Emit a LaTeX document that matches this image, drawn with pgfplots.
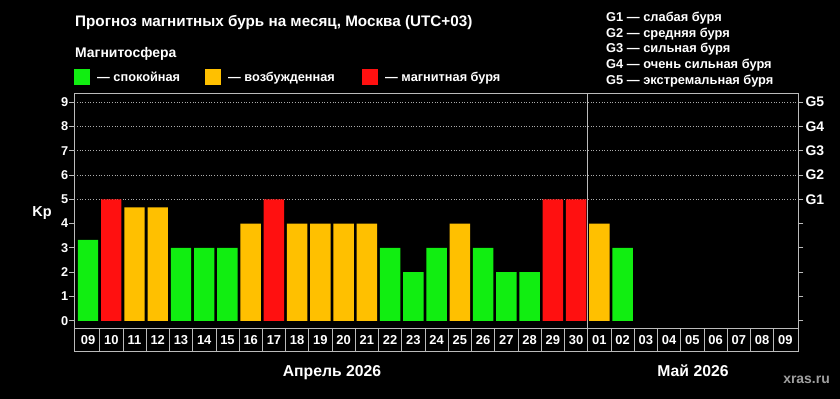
\documentclass[border=0pt]{standalone}
\usepackage{pgfplots}
\pgfplotsset{compat=1.18}
\usepackage{fontspec}
\setmainfont{Liberation Sans}
\definecolor{cgreen}{HTML}{11EE11}
\definecolor{corange}{HTML}{FFC000}
\definecolor{cred}{HTML}{FF1010}
\definecolor{caxis}{HTML}{BBBBBB}
\newcommand{\fs}[1]{\fontsize{#1}{#1}\selectfont\bfseries}
\begin{document}
\begin{tikzpicture}
\fill[black] (0,0) rectangle (840bp,399bp);
\path[use as bounding box] (0,0) rectangle (840bp,399bp);
% titles
\node[anchor=base west, inner sep=0, text=white, font=\fs{15.3}] at (75bp,372bp) {Прогноз магнитных бурь на месяц, Москва (UTC+03)};
\node[anchor=base west, inner sep=0, text=white, font=\fs{14}] at (75bp,341bp) {Магнитосфера};
\fill[cgreen] (74bp,314bp) rectangle (90bp,330bp);
\node[anchor=base west, inner sep=0, text=white, font=\fs{12.8}] at (97bp,317.5bp) {— спокойная};
\fill[corange] (205bp,314bp) rectangle (221bp,330bp);
\node[anchor=base west, inner sep=0, text=white, font=\fs{12.8}] at (228bp,317.5bp) {— возбужденная};
\fill[cred] (362bp,314bp) rectangle (378bp,330bp);
\node[anchor=base west, inner sep=0, text=white, font=\fs{12.8}] at (385bp,317.5bp) {— магнитная буря};
\node[anchor=base west, inner sep=0, text=white, font=\fs{12.9}] at (606bp,377.3bp) {G1 — слабая буря};
\node[anchor=base west, inner sep=0, text=white, font=\fs{12.9}] at (606bp,361.7bp) {G2 — средняя буря};
\node[anchor=base west, inner sep=0, text=white, font=\fs{12.9}] at (606bp,346.1bp) {G3 — сильная буря};
\node[anchor=base west, inner sep=0, text=white, font=\fs{12.9}] at (606bp,330.5bp) {G4 — очень сильная буря};
\node[anchor=base west, inner sep=0, text=white, font=\fs{12.9}] at (606bp,314.9bp) {G5 — экстремальная буря};
\node[anchor=center, inner sep=0, text=white, font=\fs{14.5}] at (42bp,186bp) {Kp};
\node[anchor=base, inner sep=0, text=white, font=\fs{15.8}] at (332bp,22.3bp) {Апрель 2026};
\node[anchor=base, inner sep=0, text=white, font=\fs{15.8}] at (693bp,22.3bp) {Май 2026};
\node[anchor=base east, inner sep=0, text=gray!75, font=\fs{14}] at (830bp,16bp) {xras.ru};
\begin{axis}[
  at={(74.3bp,70.7bp)}, anchor=south west,
  scale only axis, width=724bp, height=235bp,
  xmin=-0.59, xmax=30.56, ymin=-0.31, ymax=9.36,
  clip=false,
  axis line style={caxis, line width=0.8pt},
  xtick={0,...,30},
  xticklabels={09,10,11,12,13,14,15,16,17,18,19,20,21,22,23,24,25,26,27,28,29,30,01,02,03,04,05,06,07,08,09},
  xtick style={draw=none},
  xticklabel style={inner sep=0pt, anchor=center, yshift=-6.7bp, text=white, font=\fs{13}},
  ytick={0,...,9},
  ytick pos=left,
  tick align=outside,
  major tick length=5bp,
  ytick style={caxis, line width=0.8pt},
  yticklabel style={text=white, font=\fs{12.8}, inner sep=1pt},
  /pgf/number format/assume math mode=true,
  ybar, bar width=0.88, bar shift=0pt,
]
\foreach \g in {5,...,9}{
  \edef\tmp{\noexpand\draw[gray!65, dotted, line width=0.7pt] (axis cs:-0.59,\g) -- (axis cs:30.56,\g);}
  \tmp
}
\addplot[fill=cgreen, draw=none] coordinates {(0,3.33) (4,3) (5,3) (6,3) (13,3) (14,2) (15,3) (17,3) (18,2) (19,2) (23,3)};
\addplot[fill=corange, draw=none] coordinates {(2,4.67) (3,4.67) (7,4) (9,4) (10,4) (11,4) (12,4) (16,4) (22,4)};
\addplot[fill=cred, draw=none] coordinates {(1,5) (8,5) (20,5) (21,5)};
% label boxes
\draw[caxis, line width=0.7pt] (axis cs:-0.59,-0.31) -- (axis cs:-0.59,-1.27) -- (axis cs:30.56,-1.27) -- (axis cs:30.56,-0.31);
\foreach \k in {0,...,29}{
  \edef\tmp{\noexpand\draw[caxis, line width=0.7pt] (axis cs:\k.5,-0.31) -- (axis cs:\k.5,-1.27);}
  \tmp
}
\draw[caxis, line width=0.8pt] (axis cs:21.5,9.36) -- (axis cs:21.5,-1.27);
\end{axis}
\begin{axis}[
  at={(74.3bp,70.7bp)}, anchor=south west,
  scale only axis, width=724bp, height=235bp,
  xmin=-0.59, xmax=30.56, ymin=-0.31, ymax=9.36,
  axis x line=none, axis y line*=right,
  axis line style={caxis, line width=0.8pt},
  ytick={0,...,9},
  yticklabels={,,,,,G1,G2,G3,G4,G5},
  tick align=outside,
  major tick length=5bp,
  ytick style={caxis, line width=0.8pt},
  yticklabel style={text=white, font=\fs{14}, inner sep=2pt},
]
\end{axis}
\end{tikzpicture}
\end{document}
